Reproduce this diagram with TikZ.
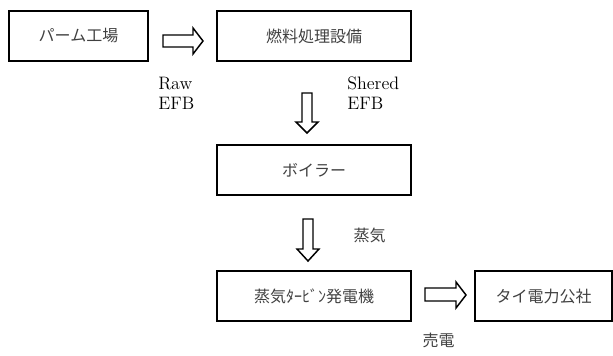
\documentclass[tikz,border=0pt]{standalone}
\usepackage{fontspec}
\newfontfamily\jp{Noto Sans CJK JP}
\begin{document}
\begin{tikzpicture}[x=0.75pt,y=-0.75pt,
  box/.style={draw=black,line width=1.5pt,minimum height=37.5pt,inner sep=0pt,
    font=\jp\fontsize{12pt}{14pt}\selectfont,text=black!75},
  wbox/.style={box,minimum width=145.5pt},
  blockarrow/.style={draw=black,line width=1.1pt,fill=white,line join=miter},
  lat/.style={font=\fontsize{13.5pt}{14.6pt}\selectfont,align=left,anchor=north west,inner sep=0pt},
  jlab/.style={font=\jp\fontsize{12pt}{14pt}\selectfont,text=black!75,inner sep=0pt}]
\useasboundingbox (0,0) rectangle (613,356);
% boxes
\node[box,minimum width=104.25pt] (palm) at (78.5,36) {パーム工場};
\node[wbox] (fuel) at (314,36) {燃料処理設備};
\node[wbox] (boiler) at (314,170) {ボイラー};
\node[wbox] (turb) at (314,296) {蒸気ﾀｰﾋﾞﾝ発電機};
\node[box,minimum width=102.75pt] (egat) at (543.5,296) {タイ電力公社};
% labels
\node[lat] (raw) at (158,77) {Raw\\EFB};
\node[lat] (shr) at (347,77) {Shered\\EFB};
\node[jlab] (steam) at (369.5,235) {蒸気};
\node[jlab] (sell) at (438.5,340.5) {売電};
% block arrows
\coordinate (r1) at (163,35);
\draw[blockarrow] (r1) -- ++(30,0) -- ++(0,-7) -- ++(10,13) -- ++(-10,13) -- ++(0,-7) -- ++(-30,0) -- cycle;
\coordinate (r2) at (425,288);
\draw[blockarrow] (r2) -- ++(31,0) -- ++(0,-6) -- ++(10,13) -- ++(-10,13) -- ++(0,-7) -- ++(-31,0) -- cycle;
\coordinate (d1) at (302,93);
\draw[blockarrow] (d1) -- ++(10,0) -- ++(0,29) -- ++(6,0) -- ++(-11,11) -- ++(-11,-11) -- ++(6,0) -- cycle;
\coordinate (d2) at (303,219);
\draw[blockarrow] (d2) -- ++(10,0) -- ++(0,30) -- ++(6,0) -- ++(-11,12) -- ++(-11,-12) -- ++(6,0) -- cycle;
\end{tikzpicture}
\end{document}
